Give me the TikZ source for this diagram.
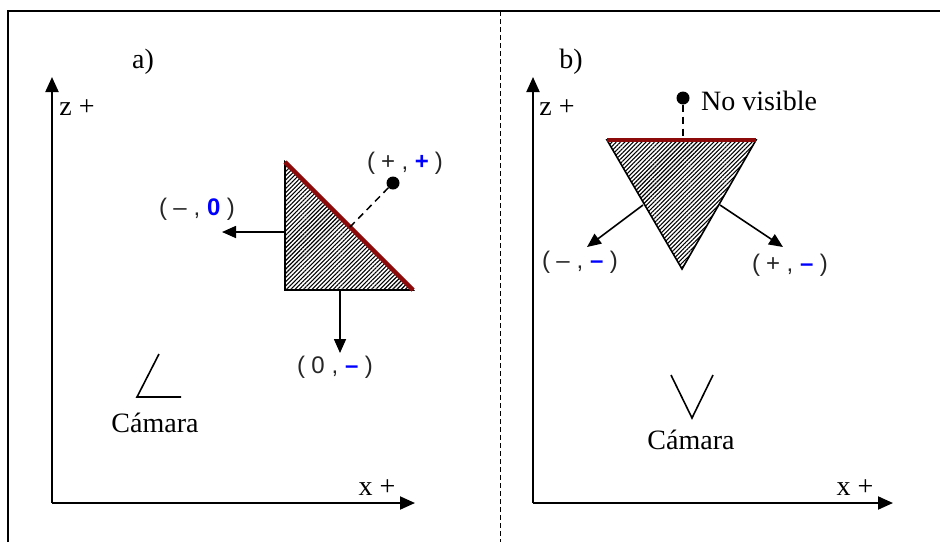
\documentclass[tikz,border=0pt]{standalone}
\usepackage{fontspec}
\setmainfont{Liberation Serif}
\newfontfamily\codefont{Liberation Sans}
\usetikzlibrary{arrows.meta,patterns.meta}
\definecolor{frontred}{RGB}{140,10,10}
\newcommand{\bl}[1]{{\bfseries\color{blue}#1}}
\newcommand{\cell}[1]{\makebox[16.9pt]{#1}}
\newcommand{\signpair}[2]{\cell{(}\cell{#1}\cell{,}\cell{#2}\cell{)}}

\begin{document}
\begin{tikzpicture}[x=1pt, y=-1pt, >={Triangle[length=14pt,width=12pt]}]
    \tikzstyle{txt}=[font=\fontsize{28}{30}\selectfont, inner sep=0pt]
    \tikzstyle{code}=[font=\codefont\fontsize{24}{26}\selectfont, inner sep=0pt, text=black!85]
    \tikzstyle{axis}=[-{Triangle[length=15pt,width=13pt]}, line width=2pt]
    \tikzstyle{normal}=[->, line width=1.6pt]
    \tikzstyle{face}=[pattern={Lines[angle=45,distance=3pt,line width=1.1pt]}, draw, line width=1.6pt]
    \tikzstyle{front}=[frontred, line width=4.5pt]
    \tikzstyle{ray}=[dash pattern=on 7pt off 5pt, line width=1.5pt]
    \tikzstyle{eye}=[circle, fill, inner sep=0pt, minimum size=13pt]
    \tikzstyle{cam}=[line width=1.6pt]

    \useasboundingbox (0,0) rectangle (940,542);
    \draw[line width=2.4pt] (8,542) -- (8,11) -- (940,11);
    \draw[dash pattern=on 5pt off 3pt, line width=0.8pt] (500,11) -- (500,542);

    % a)
    \node[txt] (la) at (143,62) {a)};
    \coordinate (oa) at (52,503);
    \coordinate (za) at (52,77);
    \coordinate (xa) at (415,503);
    \draw[axis] (oa) -- (za);
    \draw[axis] (oa) -- (xa);
    \node[txt] (zla) at (77,108) {z +};
    \node[txt] (xla) at (377,488) {x +};

    \coordinate (ta1) at (285,162);
    \coordinate (ta2) at (285,290);
    \coordinate (ta3) at (413,290);
    \path[face] (ta1) -- (ta2) -- (ta3) -- cycle;
    \draw[front] (ta1) -- (ta3);

    \coordinate (na1) at (285,232);
    \coordinate (ea1) at (222,232);
    \draw[normal] (na1) -- (ea1);
    \node[code] (nla1) at (197,209) {\signpair{\textendash}{\bl{0}}};
    \coordinate (na2) at (340,290);
    \coordinate (ea2) at (340,353);
    \draw[normal] (na2) -- (ea2);
    \node[code] (nla2) at (335,367) {\signpair{0}{\bl{\textendash}}};

    \node[eye] (pa) at (393,183) {};
    \coordinate (ha) at (350,227);
    \draw[ray] (pa) -- (ha);
    \node[code] (pla) at (405,163) {\signpair{+}{\bl{+}}};

    \coordinate (ca1) at (159,354);
    \coordinate (ca2) at (137,397);
    \coordinate (ca3) at (181,397);
    \draw[cam] (ca1) -- (ca2) -- (ca3);
    \node[txt] (cla) at (155,423) {Cámara};

    % b)
    \node[txt] (lb) at (571,62) {b)};
    \coordinate (ob) at (533,503);
    \coordinate (zb) at (533,77);
    \coordinate (xb) at (893,503);
    \draw[axis] (ob) -- (zb);
    \draw[axis] (ob) -- (xb);
    \node[txt] (zlb) at (557,108) {z +};
    \node[txt] (xlb) at (855,488) {x +};

    \coordinate (tb1) at (607,140);
    \coordinate (tb2) at (756,140);
    \coordinate (tb3) at (682,269);
    \path[face] (tb1) -- (tb2) -- (tb3) -- cycle;
    \draw[front] (tb1) -- (tb2);

    \node[eye] (pb) at (683,98) {};
    \coordinate (hb) at (683,140);
    \draw[ray] (pb) -- (hb);
    \node[txt, anchor=west] (plb) at (701,101) {No visible};

    \coordinate (nb1) at (643,205);
    \coordinate (eb1) at (587,247);
    \draw[normal] (nb1) -- (eb1);
    \node[code] (nlb1) at (580,262) {\signpair{\textendash}{\bl{\textendash}}};
    \coordinate (nb2) at (720,205);
    \coordinate (eb2) at (783,247);
    \draw[normal] (nb2) -- (eb2);
    \node[code] (nlb2) at (790,265) {\signpair{+}{\bl{\textendash}}};

    \coordinate (cb1) at (671,375);
    \coordinate (cb2) at (692,418);
    \coordinate (cb3) at (713,375);
    \draw[cam] (cb1) -- (cb2) -- (cb3);
    \node[txt] (clb) at (691,440) {Cámara};
\end{tikzpicture}
\end{document}
